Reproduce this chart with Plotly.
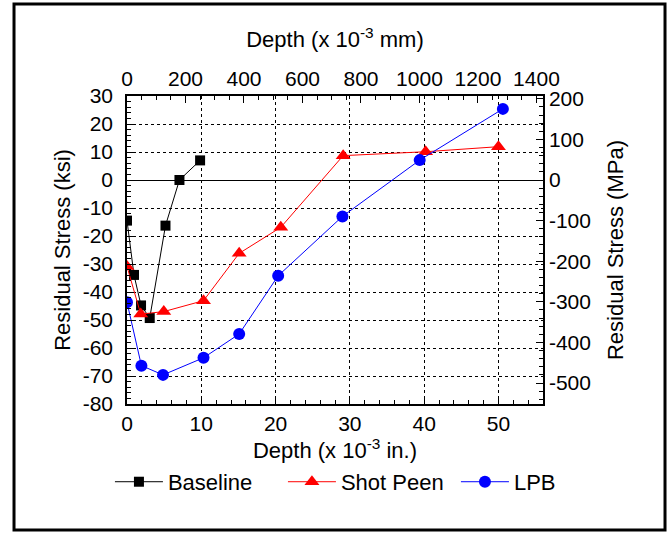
import plotly.graph_objects as go

# ---- data (depth in 10^-3 in., stress in ksi) ----
base_x = [0.0, 0.94, 1.89, 3.06, 5.18, 7.06, 9.84]
base_y = [-14.5, -33.9, -44.8, -49.3, -16.3, 0.0, 7.0]

shot_x = [0.0, 1.85, 4.95, 10.3, 15.1, 20.7, 29.1, 40.2, 50.0]
shot_y = [-30.9, -47.9, -47.0, -43.1, -26.2, -16.9, 8.7, 10.1, 11.9]

lpb_x = [0.0, 1.94, 4.85, 10.3, 15.1, 20.35, 29.0, 39.4, 50.6]
lpb_y = [-43.7, -66.3, -69.6, -63.5, -55.0, -34.2, -13.0, 7.1, 25.4]

ksi_ticks = ["30", "20", "10", "0", "-10", "-20", "-30", "-40", "-50", "-60", "-70", "-80"]
mpa_ticks = ["200", "100", "0", "-100", "-200", "-300", "-400", "-500"]
in_ticks = ["0", "10", "20", "30", "40", "50"]
mm_ticks = ["0", "200", "400", "600", "800", "1000", "1200", "1400"]

X_MAX = 56.0
Y_MIN, Y_MAX = -80.0, 30.0
KSI_TO_MPA = 6.894757
IN_TO_MM = 25.4

FONT = "Liberation Sans, Arial, sans-serif"
FS_TICK = 21
FS_TITLE = 22

fig = go.Figure()
fig.add_trace(go.Scatter(x=base_x, y=base_y, name="Baseline", mode="lines+markers",
                         line=dict(color="black", width=1),
                         marker=dict(symbol="square", size=10, color="black")))
fig.add_trace(go.Scatter(x=shot_x, y=shot_y, name="Shot Peen", mode="lines+markers",
                         line=dict(color="red", width=1),
                         marker=dict(symbol="triangle-up", size=13, color="red")))
fig.add_trace(go.Scatter(x=lpb_x, y=lpb_y, name="LPB", mode="lines+markers",
                         line=dict(color="blue", width=1),
                         marker=dict(symbol="circle", size=12, color="blue")))
# invisible trace to activate secondary axes
fig.add_trace(go.Scatter(x=[0], y=[0], xaxis="x2", yaxis="y2", mode="markers",
                         marker=dict(opacity=0), showlegend=False, hoverinfo="skip"))

axis_common = dict(showline=True, linecolor="black", linewidth=1.5,
                   ticks="inside", ticklen=7, tickcolor="black", tickwidth=1,
                   tickfont=dict(family=FONT, size=FS_TICK, color="black"))

fig.update_layout(
    width=672, height=533,
    margin=dict(l=127, r=129, t=96, b=129),
    paper_bgcolor="white", plot_bgcolor="white",
    font=dict(family=FONT, size=FS_TITLE, color="black"),
    xaxis=dict(range=[0, X_MAX], tickvals=[float(t) for t in in_ticks], ticktext=in_ticks,
               showgrid=True, gridcolor="black", griddash="dot", gridwidth=1,
               zeroline=False, ticklabelstandoff=0,
               minor=dict(dtick=2, ticks="inside", ticklen=4, tickcolor="black"),
               title=dict(text="Depth (x 10<sup>-3</sup> in.)", font=dict(family=FONT, size=FS_TITLE), standoff=0),
               **axis_common),
    xaxis2=dict(range=[0, X_MAX * IN_TO_MM], overlaying="x", side="top",
                tickvals=[float(t) for t in mm_ticks], ticktext=mm_ticks,
                showgrid=False, zeroline=False, ticklabelstandoff=0,
                minor=dict(dtick=50, ticks="inside", ticklen=4, tickcolor="black"),
                title=dict(text="Depth (x 10<sup>-3</sup> mm)", font=dict(family=FONT, size=FS_TITLE), standoff=13),
                **axis_common),
    yaxis=dict(range=[Y_MIN, Y_MAX], tickvals=[float(t) for t in ksi_ticks], ticktext=ksi_ticks,
               showgrid=True, gridcolor="black", griddash="dot", gridwidth=1,
               zeroline=True, zerolinecolor="black", zerolinewidth=1,
               ticklabelstandoff=8,
               minor=dict(dtick=2, ticks="inside", ticklen=4, tickcolor="black"),
               title=dict(text="Residual Stress (ksi)", font=dict(family=FONT, size=FS_TITLE), standoff=6),
               **axis_common),
    yaxis2=dict(range=[Y_MIN * KSI_TO_MPA, Y_MAX * KSI_TO_MPA], overlaying="y", side="right",
                tickvals=[float(t) for t in mpa_ticks], ticktext=mpa_ticks,
                showgrid=False, zeroline=False, ticklabelstandoff=0,
                minor=dict(dtick=20, ticks="inside", ticklen=4, tickcolor="black"),
                title=dict(text="Residual Stress (MPa)", font=dict(family=FONT, size=FS_TITLE), standoff=18),
                **axis_common),
    legend=dict(orientation="h", x=-0.041, xanchor="left", y=-0.253, yanchor="middle",
                font=dict(family=FONT, size=FS_TITLE), bgcolor="rgba(0,0,0,0)",
                itemwidth=48, entrywidth=110, entrywidthmode="pixels", tracegroupgap=0),
    showlegend=True,
)

# outer frame of the figure
fig.add_shape(type="rect", xref="paper", yref="paper",
              x0=-0.2716, x1=1.2933, y0=-0.409, y1=1.2987,
              line=dict(color="black", width=3), fillcolor="rgba(0,0,0,0)")

fig.write_html("out.html", config={"displayModeBar": False},
               post_script="document.body.style.margin='0px';")
